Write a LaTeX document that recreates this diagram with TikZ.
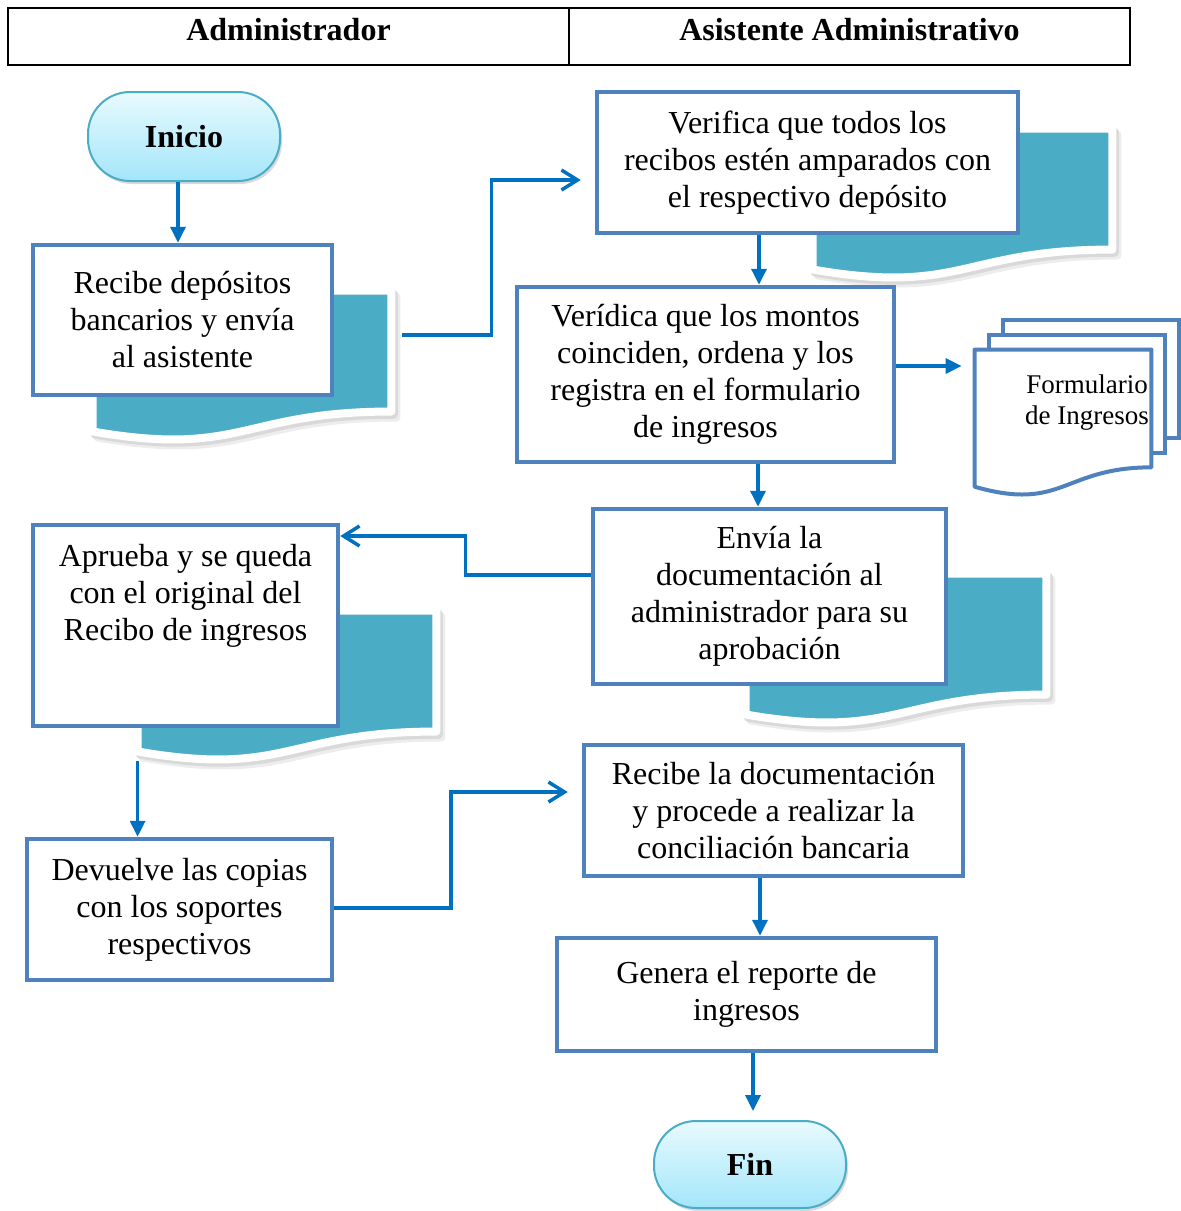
\documentclass[tikz,border=0pt]{standalone}
\usepackage{fontspec}
\setmainfont{Liberation Serif}
\usetikzlibrary{arrows.meta,calc,shadows}
\definecolor{boxblue}{HTML}{4F81BD}
\definecolor{arrblue}{HTML}{0070C0}
\definecolor{tealc}{HTML}{4BACC6}
\definecolor{termtop}{HTML}{E8FAFE}
\definecolor{termbot}{HTML}{A3E6FA}
\definecolor{termline}{HTML}{4BACC6}
\newcommand\docshapepath[2]{%
  \path[#1] (#2.north west) -- (#2.north east)
    -- ($(#2.north east)!0.802!(#2.south east)$)
    .. controls ($(#2.north)!0.802!(#2.south)$) and ($(#2.north)!1.107!(#2.south)$)
    .. ($(#2.north west)!0.934!(#2.south west)$) -- cycle;}
\newcommand\tealdoc[1]{%
  \begin{scope}[transform canvas={shift={(2.5pt,-3pt)}}]
    \docshapepath{fill=black!7,draw=black!7,line width=4pt,line join=round}{#1}
  \end{scope}
  \begin{scope}[transform canvas={shift={(1.2pt,-1.6pt)}}]
    \docshapepath{fill=black!15,draw=black!15,line width=4pt,line join=round}{#1}
  \end{scope}
  \docshapepath{fill=tealc,draw=white,line width=4pt,line join=round}{#1}}
\begin{document}
\begin{tikzpicture}[x=0.5pt,y=-0.5pt,
  mainfont/.style={font=\fontsize{16}{18.5}\selectfont},
  box/.style={draw=boxblue, line width=2.25pt, fill=white, align=center, inner sep=3pt, mainfont},
  docn/.style={inner sep=0pt, minimum width=149pt, minimum height=75pt},
  term/.style={rectangle, rounded corners=21pt, draw=termline, line width=1pt,
    top color=termtop, bottom color=termbot, minimum width=96pt,
    font=\bfseries\fontsize{16}{19}\selectfont,
    drop shadow={opacity=0.3, shadow xshift=1pt, shadow yshift=-1.5pt}},
  hcell/.style={draw=black, line width=1pt, minimum width=280.5pt, minimum height=28.5pt,
    inner sep=0pt, text height=11pt, text depth=7.5pt,
    font=\bfseries\fontsize{16}{19}\selectfont},
  page/.style={draw=boxblue, line width=2pt, fill=white, inner sep=0pt,
    minimum width=88pt, minimum height=59pt},
  farr/.style={draw=arrblue, line width=1.75pt, -{Triangle[length=8pt,width=7.5pt]}},
  oarr/.style={draw=arrblue, line width=1.75pt, -{Straight Barb[length=8pt,width=10pt]}}]
\useasboundingbox (0,0) rectangle (1181,1211);

% header
\node[hcell] (h1) at (288.5,36.5) {Administrador};
\node[hcell] (h2) at (849.5,36.5) {Asistente Administrativo};

% document placeholders (teal docs)
\node[docn] (d1) at (242,366) {};
\node[docn, minimum width=149.5pt] (d2) at (962.5,204) {};
\node[docn, minimum width=150pt] (d3) at (896,649) {};
\node[docn] (d4) at (287,686) {};
\tealdoc{d1}
\tealdoc{d2}
\tealdoc{d3}
\tealdoc{d4}

% terminals
\node[term, minimum height=44.5pt] (ini) at (184,136.5) {Inicio};
\node[term, minimum height=43.5pt] (fin) at (750,1164.5) {Fin};

% process boxes
\node[box, minimum width=149.5pt, minimum height=75pt] (b1) at (182.5,320)
  {Recibe depósitos\\ bancarios y envía\\ al asistente};
\node[box, minimum width=210.5pt, minimum height=70.5pt] (b2) at (807.5,162.5)
  {Verifica que todos los\\ recibos estén amparados con\\ el respectivo depósito};
\node[box, minimum width=188.5pt, minimum height=87.5pt] (b3) at (705.5,374.5)
  {Verídica que los montos\\ coinciden, ordena y los\\ registra en el formulario\\ de ingresos};
\node[box, minimum width=176.5pt, minimum height=87.5pt] (b4) at (769.5,596.5)
  {Envía la\\ documentación al\\ administrador para su\\ aprobación};
\node[box, minimum width=152.5pt, minimum height=100.5pt] (b5) at (185.5,625.5)
  {Aprueba y se queda\\ con el original del\\ Recibo de ingresos\\[15pt]\mbox{}};
\node[box, minimum width=189.5pt, minimum height=65.5pt] (b6) at (773.5,810.5)
  {Recibe la documentación\\ y procede a realizar la\\ conciliación bancaria};
\node[box, minimum width=152.5pt, minimum height=70.5pt] (b7) at (179.5,909.5)
  {Devuelve las copias\\ con los soportes\\ respectivos};
\node[box, minimum width=189.5pt, minimum height=56.5pt] (b8) at (746.5,994.5)
  {Genera el reporte de\\ ingresos};

% multi-document
\node[page] (pg3) at (1091,379) {};
\node[page] (pg2) at (1077,394) {};
\node[inner sep=0pt, minimum width=88pt, minimum height=73pt] (fd) at (1063,423) {};
\docshapepath{fill=white,draw=boxblue,line width=2pt,line join=round}{fd}
\node[align=center, inner sep=0pt, font=\fontsize{13.5}{15.5}\selectfont] (fdt) at (1087,403)
  {Formulario\\ de Ingresos};

% connectors
\coordinate (a1s) at ($(ini.south)+(-6,0)$);
\draw[farr] (a1s) -- (a1s |- b1.north);

\coordinate (a2s) at ($(d1.east)+(11,-31)$);
\coordinate (a2e) at ($(b2.west)+(-14,17.5)$);
\draw[oarr] (a2s) -| ($(a2s)!.5!(a2e)$) |- (a2e);

\coordinate (a3s) at ($(b2.south)+(-48.5,0)$);
\draw[farr] (a3s) -- (a3s |- b3.north);

\coordinate (a4s) at ($(b3.east)+(0,-8.5)$);
\draw[farr, shorten >=6.5pt] (a4s) -- (a4s -| fd.west);

\coordinate (a5s) at ($(b3.south)+(52.5,0)$);
\draw[farr] (a5s) -- (a5s |- b4.north);

\coordinate (a6s) at ($(b4.west)+(0,-21.5)$);
\coordinate (a6e) at ($(b5.east)+(0,-89.5)$);
\draw[oarr] (a6s) -| ($(a6s)!.5!(a6e)$) |- (a6e);

\draw[farr] (d4.south west) -- (d4.south west |- b7.north);

\coordinate (a8s) at ($(b7.east)+(0,-1.5)$);
\coordinate (a8e) at ($(b6.west)+(-14,-18.5)$);
\draw[oarr] (a8s) -| ($(a8s)!.5!(a8e)$) |- (a8e);

\coordinate (a9s) at ($(b6.south)+(-13.5,0)$);
\draw[farr] (a9s) -- (a9s |- b8.north);

\coordinate (a10s) at ($(b8.south)+(6.5,0)$);
\draw[farr, shorten >=4.5pt] (a10s) -- (a10s |- fin.north);
\end{tikzpicture}
\end{document}
